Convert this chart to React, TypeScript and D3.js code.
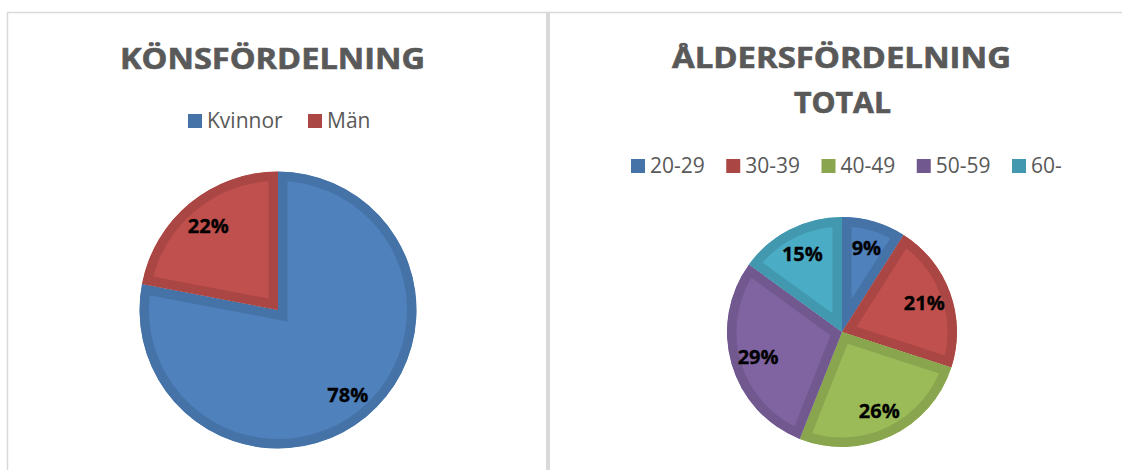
import React from "react";
import * as d3 from "d3";

const genderCategories = ["Kvinnor", "Män"];
const genderValues = [78, 22];
const ageCategories = ["20-29", "30-39", "40-49", "50-59", "60-"];
const ageValues = [9, 21, 26, 29, 15];

const fillColors = ["#4f81bd", "#c0504d", "#9bbb59", "#8064a2", "#4bacc6"];
const ringColors = ["#4572a7", "#aa4643", "#89a54e", "#71588f", "#4198af"];

const FONT = "'Open Sans', 'Liberation Sans', sans-serif";

type PieProps = {
  id: string;
  values: number[];
  cx: number;
  cy: number;
  r: number;
  labelFrac: number;
};

function Pie({ id, values, cx, cy, r, labelFrac }: PieProps) {
  const pie = d3.pie<number>().sort(null).value((d) => d)(values);
  const arc = d3.arc<d3.PieArcDatum<number>>().innerRadius(0).outerRadius(r);
  const labelArc = d3
    .arc<d3.PieArcDatum<number>>()
    .innerRadius(r * labelFrac)
    .outerRadius(r * labelFrac);
  const total = d3.sum(values);
  return (
    <g transform={`translate(${cx},${cy})`}>
      <defs>
        {pie.map((p, i) => (
          <clipPath id={`${id}-clip-${i}`} key={i}>
            <path d={arc(p) || ""} />
          </clipPath>
        ))}
      </defs>
      {pie.map((p, i) => (
        <path
          key={i}
          d={arc(p) || ""}
          fill={fillColors[i]}
          stroke={ringColors[i]}
          strokeWidth={19}
          strokeLinejoin="miter"
          clipPath={`url(#${id}-clip-${i})`}
        />
      ))}
      {pie.map((p, i) => {
        const [lx, ly] = labelArc.centroid(p);
        return (
          <text
            key={i}
            x={lx}
            y={ly}
            dy="0.36em"
            textAnchor="middle"
            fontFamily={FONT}
            fontWeight={700}
            fontSize={20}
            stroke="#000"
            strokeWidth={0.3}
            fill="#000"
          >
            {`${Math.round((p.value / total) * 100)}%`}
          </text>
        );
      })}
    </g>
  );
}

type LegendProps = {
  labels: string[];
  x0: number;
  x1: number;
  y: number;
};

function Legend({ labels, x0, x1, y }: LegendProps) {
  const xs = d3
    .scaleLinear()
    .domain([0, Math.max(1, labels.length - 1)])
    .range([x0, x1]);
  return (
    <g>
      {labels.map((l, i) => (
        <g key={l} transform={`translate(${xs(i)},${y})`}>
          <rect x={0} y={-14} width={14} height={14} fill={ringColors[i]} />
          <text
            x={19}
            y={0}
            fontFamily={FONT}
            fontSize={21}
            fill="#595959"
          >
            {l}
          </text>
        </g>
      ))}
    </g>
  );
}

export default function App() {
  const titleProps = {
    textAnchor: "middle" as const,
    fontFamily: FONT,
    fontWeight: 700,
    fontSize: 28,
    fill: "#595959",
    stroke: "#595959",
    strokeWidth: 0.6,
    lengthAdjust: "spacingAndGlyphs" as const,
  };
  return (
    <svg
      width={1122}
      height={470}
      style={{ position: "absolute", left: 0, top: 0, background: "#fff" }}
    >
      {/* panel borders */}
      <line x1={7} y1={12.5} x2={1122} y2={12.5} stroke="#d9d9d9" strokeWidth={1.5} />
      <line x1={7.5} y1={12} x2={7.5} y2={470} stroke="#d9d9d9" strokeWidth={1.5} />
      <rect x={546} y={12} width={4} height={458} fill="#d9d9d9" />

      {/* Left chart */}
      <text x={272.5} y={69} textLength={305} {...titleProps}>
        KÖNSFÖRDELNING
      </text>
      <Legend labels={genderCategories} x0={188} x1={308} y={128} />
      <Pie id="gender" values={genderValues} cx={278} cy={310} r={138.5} labelFrac={0.79} />

      {/* Right chart */}
      <text x={841.5} y={68} textLength={339} {...titleProps}>
        ÅLDERSFÖRDELNING
      </text>
      <text x={842.5} y={113} textLength={97} {...titleProps}>
        TOTAL
      </text>
      <Legend labels={ageCategories} x0={631} x1={1012} y={173} />
      <Pie id="age" values={ageValues} cx={842} cy={332} r={115} labelFrac={0.76} />
    </svg>
  );
}
